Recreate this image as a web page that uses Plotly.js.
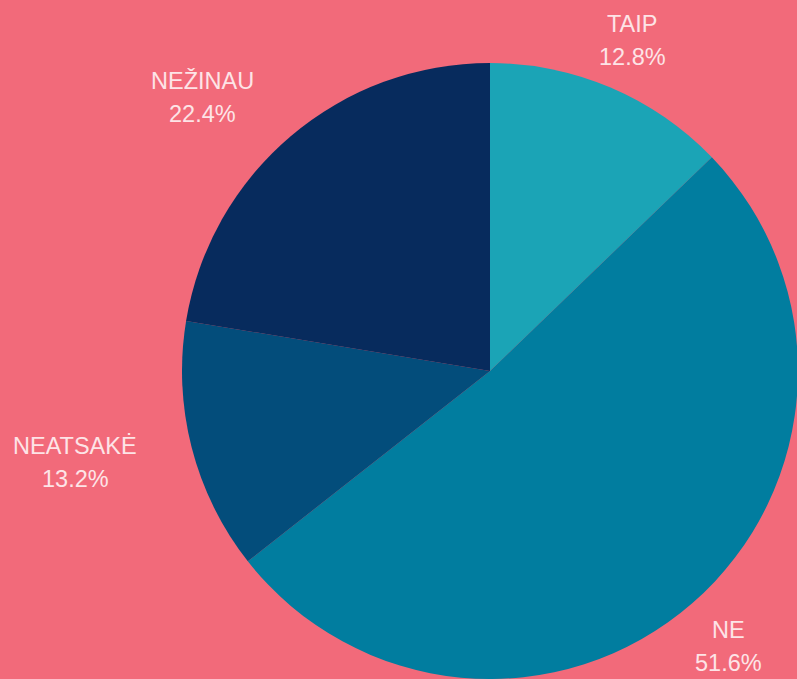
<!DOCTYPE html>
<html>
<head>
<meta charset="utf-8">
<script src="https://cdn.plot.ly/plotly-3.0.1.min.js"></script>
<style>
html,body{margin:0;padding:0;overflow:hidden;background:#f26a7a;width:797px;height:679px;}
#chart{width:800px;height:690px;}
</style>
</head>
<body>
<div id="chart"></div>
<script>
// Data
const categories = ['TAIP', 'NE', 'NEATSAKĖ', 'NEŽINAU'];
const values = [12.8, 51.6, 13.2, 22.4];
const sliceColors = ['#1ba4b6', '#017d9f', '#034d7b', '#072b5d'];

// Label placement (pixel centres of the two text lines), layout only
const labelPos = [
  {x: 632, y1: 24, y2: 57},
  {x: 728, y1: 630, y2: 663},
  {x: 75, y1: 446, y2: 479},
  {x: 203, y1: 81, y2: 114}
];

const W = 800, H = 690;
const textColor = '#fde4e7';
const font = {family: 'Liberation Sans, Arial, sans-serif', size: 23.5, color: textColor};

const annotations = [];
categories.forEach((c, i) => {
  const p = labelPos[i];
  annotations.push({xref: 'paper', yref: 'paper', x: p.x / W, y: 1 - p.y1 / H,
    xanchor: 'center', yanchor: 'middle', showarrow: false, text: c, font: font});
  annotations.push({xref: 'paper', yref: 'paper', x: p.x / W, y: 1 - p.y2 / H,
    xanchor: 'center', yanchor: 'middle', showarrow: false,
    text: values[i].toFixed(1) + '%', font: font});
});

const trace = {
  type: 'pie',
  labels: categories,
  values: values,
  sort: false,
  direction: 'clockwise',
  rotation: 0,
  textinfo: 'none',
  hoverinfo: 'label+percent',
  marker: {colors: sliceColors, line: {width: 0}},
  domain: {x: [182 / W, 798 / W], y: [1 - 679 / H, 1 - 63 / H]},
  showlegend: false
};

Plotly.newPlot('chart', [trace], {
  width: W, height: H,
  margin: {l: 0, r: 0, t: 0, b: 0, pad: 0},
  paper_bgcolor: '#f26a7a',
  plot_bgcolor: '#f26a7a',
  showlegend: false,
  annotations: annotations
}, {displayModeBar: false, staticPlot: true});
</script>
</body>
</html>
